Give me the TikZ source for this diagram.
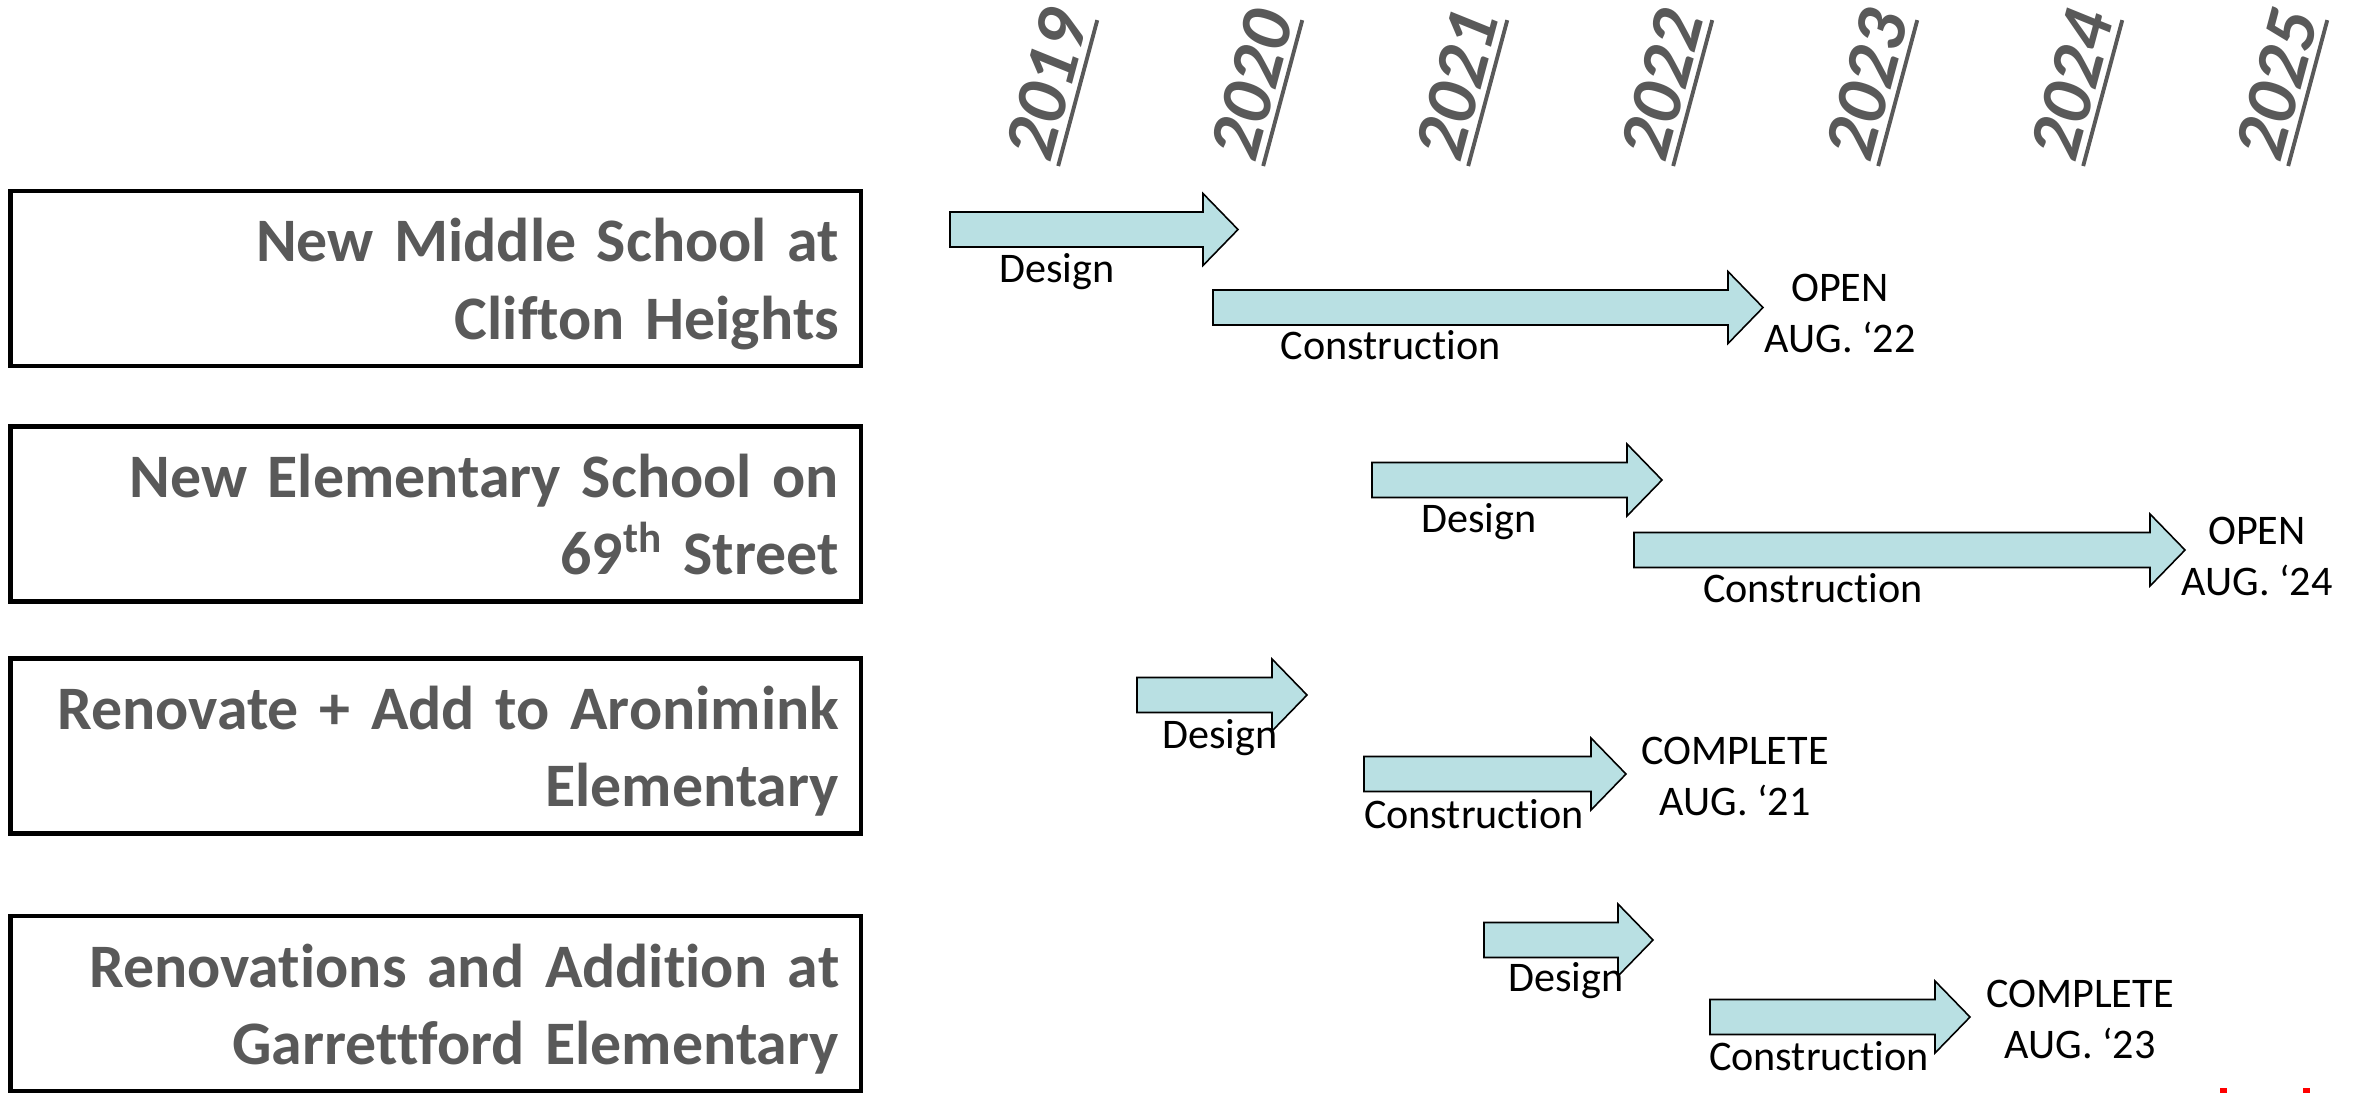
\documentclass[tikz,border=0pt]{standalone}
\usepackage{fontspec}
\setmainfont{Carlito}[Ligatures=NoCommon]
\definecolor{ink}{HTML}{595959}
\definecolor{phase}{HTML}{B9E0E3}
\definecolor{logo}{HTML}{FF0000}

\begin{document}
\begin{tikzpicture}[
  projbox/.style={draw=black,line width=1.25pt,minimum width=8.505cm,minimum height=1.75cm,
    text width=8.065cm,align=right,inner xsep=0.22cm,inner ysep=0pt,text=ink,
    font=\fontsize{17.6}{22}\selectfont\bfseries,text height=12.5pt,text depth=21.9pt},
  yearlbl/.style={rotate=75,anchor=base west,inner xsep=0pt,inner ysep=2pt,text depth=0pt,text=ink,
    font=\fontsize{21}{25}\selectfont\bfseries\itshape,
    append after command={(\tikzlastnode.south west) edge[ink,line width=1.1pt] (\tikzlastnode.south east)}},
  phasearrow/.style={fill=phase,draw=black,line width=.45pt},
  phaselbl/.style={anchor=base,inner sep=0pt,font=\fontsize{12}{14.5}\selectfont},
  donelbl/.style={phaselbl,align=center}]
\useasboundingbox (0,0) rectangle (23.61,-10.93);
% year header
\foreach \yr [count=\i from 0] in {2019,...,2025}
  \node[yearlbl] (y\yr) at ({10.507+2.05*\i},-1.64) {\yr};
% project boxes
\node[projbox] (clifton) at (4.3575,-2.785) {New Middle School at\\Clifton Heights};
\node[projbox] (street69) at (4.3575,-5.14) {New Elementary School on\\69\textsuperscript{th} Street};
\node[projbox] (aronimink) at (4.3575,-7.46) {Renovate + Add to Aronimink\\Elementary};
\node[projbox] (garrett) at (4.3575,-10.035) {Renovations and Addition at\\Garrettford Elementary};
% phase arrows: start / tip / mid height
\foreach \xa/\xt/\ym in {9.50/12.38/-2.295, 12.13/17.63/-3.075, 13.72/16.62/-4.80, 16.34/21.85/-5.50,
    11.37/13.07/-6.95, 13.64/16.26/-7.74, 14.84/16.53/-9.40, 17.10/19.70/-10.17}
  \draw[phasearrow] (\xa,{\ym+0.175}) -- ({\xt-0.35},{\ym+0.175}) -- ({\xt-0.35},{\ym+0.36})
    -- (\xt,\ym) -- ({\xt-0.35},{\ym-0.36}) -- ({\xt-0.35},{\ym-0.175}) -- (\xa,{\ym-0.175}) -- cycle;
% phase labels (two-line ones sit on their last baseline)
\node[phaselbl] (design1) at (10.57,-2.82) {Design};
\node[phaselbl] (build1) at (13.905,-3.59) {Construction};
\node[donelbl] (open1) at (18.40,-3.52) {OPEN\\AUG. ‘22};
\node[phaselbl] (design2) at (14.79,-5.32) {Design};
\node[phaselbl] (build2) at (18.13,-6.02) {Construction};
\node[donelbl] (open2) at (22.57,-5.95) {OPEN\\AUG. ‘24};
\node[phaselbl] (design3) at (12.20,-7.48) {Design};
\node[phaselbl] (build3) at (14.74,-8.28) {Construction};
\node[donelbl] (done3) at (17.35,-8.15) {COMPLETE\\AUG. ‘21};
\node[phaselbl] (design4) at (15.66,-9.91) {Design};
\node[phaselbl] (build4) at (18.19,-10.70) {Construction};
\node[donelbl] (done4) at (20.80,-10.58) {COMPLETE\\AUG. ‘23};
% cut-off logo at the lower edge
\fill[logo] (22.20,-10.88) rectangle (22.27,-10.93);
\fill[logo] (23.03,-10.88) rectangle (23.10,-10.93);
\end{tikzpicture}
\end{document}
